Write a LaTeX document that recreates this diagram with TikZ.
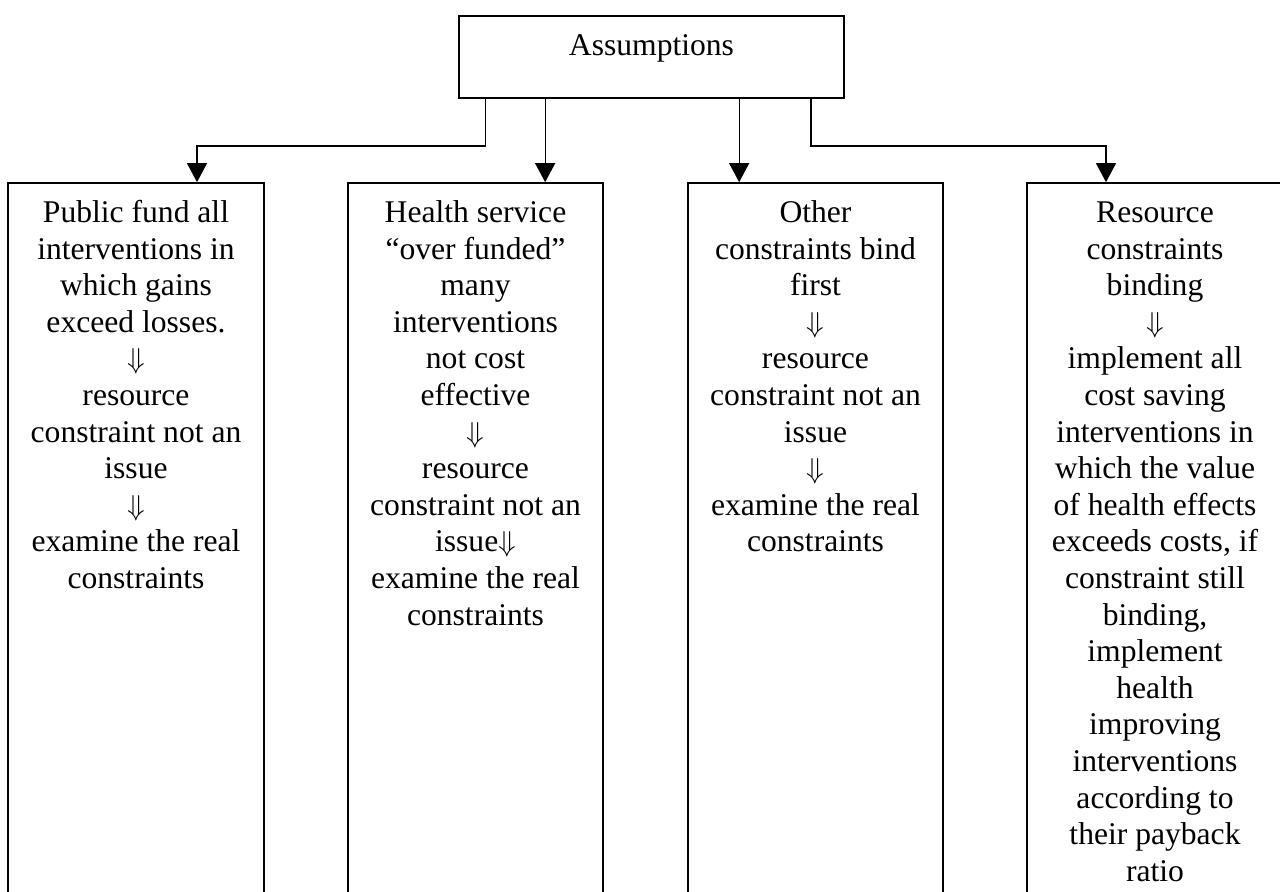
\documentclass[tikz,border=0pt]{standalone}
\usepackage{fontspec}
\setmainfont{Liberation Serif}
\usetikzlibrary{arrows.meta}
\begin{document}
\begin{tikzpicture}[x=0.5pt,y=-0.5pt,
  box/.style={draw, line width=0.85pt, rectangle, inner sep=0pt},
  conn/.style={line width=0.65pt, -{Triangle[width=10pt,length=9.5pt]}},
  txt/.style={align=center, inner sep=0pt, anchor=north, font=\fontsize{15.8}{18.3}\selectfont}]
\useasboundingbox (0,0) rectangle (1280,891);
\clip (0,0) rectangle (1280,891);

% top box
\node[box, minimum width=192.5pt, minimum height=41pt] (top) at (651.5,57) {};
\node[anchor=base, inner sep=0pt, font=\fontsize{15.8}{18.3}\selectfont] (toptxt) at (651.5,55) {Assumptions};

% lower boxes
\node[box, minimum width=128pt, minimum height=358.5pt] (b1) at (136,541.5) {};
\node[box, minimum width=127.5pt, minimum height=358.5pt] (b2) at (475.5,541.5) {};
\node[box, minimum width=127.5pt, minimum height=358.5pt] (b3) at (815.5,541.5) {};
\node[box, minimum width=128pt, minimum height=358.5pt] (b4) at (1155,541.5) {};

% texts
\node[txt] (t1) at (136,196.4) {\strut Public fund all\\ interventions in\\ which gains\\ exceed losses.\\ $\Downarrow$\\ resource\\ constraint not an\\ issue\\ $\Downarrow$\\ examine the real\\ constraints};
\node[txt] (t2) at (475.5,196.4) {\strut Health service\\ “over funded”\\ many\\ interventions\\ not cost\\ effective\\ $\Downarrow$\\ resource\\ constraint not an\\ issue$\Downarrow$\\ examine the real\\ constraints};
\node[txt] (t3) at (815.5,196.4) {\strut Other\\ constraints bind\\ first\\ $\Downarrow$\\ resource\\ constraint not an\\ issue\\ $\Downarrow$\\ examine the real\\ constraints};
\node[txt] (t4) at (1155,196.4) {\strut Resource\\ constraints\\ binding\\ $\Downarrow$\\ implement all\\ cost saving\\ interventions in\\ which the value\\ of health effects\\ exceeds costs, if\\ constraint still\\ binding,\\ implement\\ health\\ improving\\ interventions\\ according to\\ their payback\\ ratio};

% connectors
\coordinate (k1) at (197,146);
\coordinate (k4) at (1106,146);
\draw[conn] ([xshift=13.5pt]top.south west) |- (k1) -- (k1 |- b1.north);
\draw[conn] ([xshift=43.5pt]top.south west) coordinate (s2) -- (s2 |- b2.north);
\draw[conn] ([xshift=140.5pt]top.south west) coordinate (s3) -- (s3 |- b3.north);
\draw[conn] ([xshift=-17pt]top.south east) |- (k4) -- (k4 |- b4.north);
\end{tikzpicture}
\end{document}
